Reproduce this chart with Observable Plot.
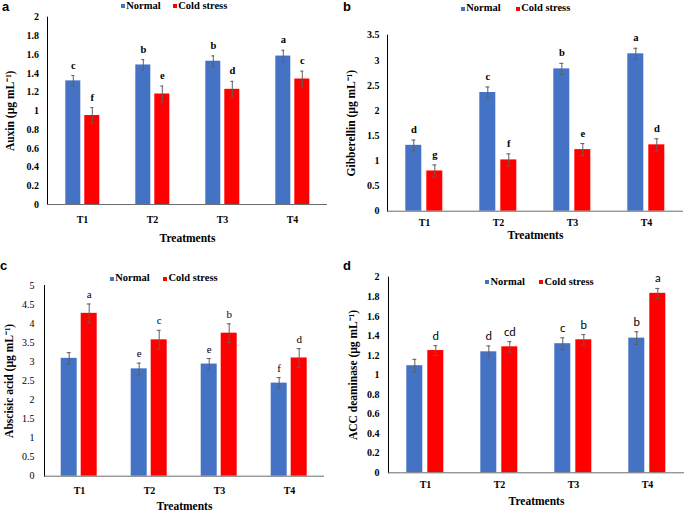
<!DOCTYPE html>
<html><head><meta charset="utf-8">
<script src="https://cdn.jsdelivr.net/npm/d3@7"></script>
<script src="https://cdn.jsdelivr.net/npm/@observablehq/plot@0.6"></script>
<style>
body{margin:0;background:#fff;}
#root{position:relative;width:685px;height:522px;overflow:hidden;background:#fff;}
.panel{position:absolute;}
.panel svg{overflow:visible;}
.plbl{position:absolute;font:bold 13px "Liberation Sans",Arial,sans-serif;line-height:13px;}
.leg{position:absolute;font:bold 10.5px "Liberation Serif",serif;white-space:nowrap;line-height:12px;}
.sq{position:absolute;width:4px;height:4px;}
.panel [aria-label="y-axis label"], .panel [aria-label="fx-axis label"]{font-size:11.5px;}
.pc [aria-label="y-axis tick label"]{font-weight:normal;}
</style>
</head><body><div id="root"></div>
<script>
const treatments = ["T1", "T2", "T3", "T4"];
const seriesNames = ["Normal", "Cold stress"];
const seriesColors = ["#4472C4", "#FF0000"];

// Panel a: Auxin
const auxinNormal = [1.32, 1.49, 1.53, 1.585];
const auxinNormalErr = [0.057, 0.057, 0.057, 0.062];
const auxinCold = [0.95, 1.18, 1.23, 1.34];
const auxinColdErr = [0.085, 0.085, 0.085, 0.084];
const auxinNormalLetters = ["c", "b", "b", "a"];
const auxinColdLetters = ["f", "e", "d", "c"];
const auxinTicks = [0, 0.2, 0.4, 0.6, 0.8, 1, 1.2, 1.4, 1.6, 1.8, 2];

// Panel b: Gibberellin
const gibNormal = [1.31, 2.36, 2.83, 3.13];
const gibNormalErr = [0.105, 0.11, 0.11, 0.11];
const gibCold = [0.80, 1.02, 1.225, 1.32];
const gibColdErr = [0.12, 0.12, 0.12, 0.12];
const gibNormalLetters = ["d", "c", "b", "a"];
const gibColdLetters = ["g", "f", "e", "d"];
const gibTicks = [0, 0.5, 1, 1.5, 2, 2.5, 3, 3.5];

// Panel c: Abscisic acid
const abaNormal = [3.09, 2.815, 2.94, 2.44];
const abaNormalErr = [0.15, 0.15, 0.145, 0.145];
const abaCold = [4.27, 3.575, 3.75, 3.10];
const abaColdErr = [0.245, 0.25, 0.245, 0.245];
const abaNormalLetters = ["", "e", "e", "f"];
const abaColdLetters = ["a", "c", "b", "d"];
const abaTicks = [0, 0.5, 1, 1.5, 2, 2.5, 3, 3.5, 4, 4.5, 5];

// Panel d: ACC deaminase
const accNormal = [1.095, 1.237, 1.32, 1.377];
const accNormalErr = [0.065, 0.06, 0.06, 0.065];
const accCold = [1.25, 1.288, 1.36, 1.835];
const accColdErr = [0.05, 0.053, 0.053, 0.05];
const accNormalLetters = ["", "d", "c", "b"];
const accColdLetters = ["d", "cd", "b", "a"];
const accTicks = [0, 0.2, 0.4, 0.6, 0.8, 1, 1.2, 1.4, 1.6, 1.8, 2];

function rowsOf(n, ne, nl, c, ce, cl) {
  return treatments.flatMap((t, i) => [
    {treatment: t, series: seriesNames[0], value: n[i], err: ne[i], letter: nl[i]},
    {treatment: t, series: seriesNames[1], value: c[i], err: ce[i], letter: cl[i]}
  ]);
}

const root = document.getElementById("root");
const fmt = d => String(+d.toFixed(1));

function panel(cfg) {
  const rows = rowsOf(...cfg.data);
  const errColor = "#5f5f5f";
  const svg = Plot.plot({
    width: cfg.width, height: cfg.height,
    marginLeft: cfg.ml, marginRight: cfg.mr, marginTop: cfg.mt, marginBottom: cfg.mb,
    facet: {data: rows, x: "treatment"},
    fx: {domain: treatments, padding: 0, axis: "bottom", tickSize: 0, tickPadding: cfg.fxPad,
         label: "Treatments", labelAnchor: "center", labelOffset: cfg.fxLabelOffset, labelArrow: false},
    x: {domain: seriesNames, axis: null, paddingInner: cfg.pi, paddingOuter: cfg.po},
    y: {domain: [cfg.ticks[0], cfg.ticks[cfg.ticks.length - 1]], ticks: cfg.ticks, tickFormat: fmt,
        tickSize: 0, tickPadding: cfg.yPad, label: cfg.ylabel, labelAnchor: "center", labelArrow: false,
        labelOffset: cfg.yLabelOffset, line: true},
    color: {domain: seriesNames, range: seriesColors},
    style: {fontFamily: "'Liberation Serif', serif", fontSize: "10px", fontWeight: "bold", color: "#000", background: "transparent"},
    marks: [
      Plot.barY(rows, {x: "series", y: "value", fill: "series"}),
      Plot.ruleX(rows, {x: "series", y1: d => d.value - d.err, y2: d => d.value + d.err, stroke: errColor}),
      Plot.tickY(rows, {x: "series", y: d => d.value - d.err, stroke: errColor, insetLeft: cfg.cap, insetRight: cfg.cap}),
      Plot.tickY(rows, {x: "series", y: d => d.value + d.err, stroke: errColor, insetLeft: cfg.cap, insetRight: cfg.cap}),
      Plot.text(rows, {x: "series", y: d => d.value + d.err, text: "letter", dy: cfg.letterDy, lineAnchor: "bottom",
        fontFamily: cfg.letterFont, fontWeight: cfg.letterWeight, fontSize: cfg.letterSize, fill: "#000"}),
      Plot.ruleY([0], {stroke: "#6b6b6b"})
    ]
  });
  const div = document.createElement("div");
  div.className = "panel " + cfg.cls;
  div.style.left = cfg.left + "px";
  div.style.top = cfg.top + "px";
  div.style.width = cfg.width + "px";
  div.style.height = cfg.height + "px";
  div.appendChild(svg);
  root.appendChild(div);

  const lab = document.createElement("div");
  lab.className = "plbl";
  lab.textContent = cfg.letter;
  lab.style.left = cfg.letterPos[0] + "px";
  lab.style.top = cfg.letterPos[1] + "px";
  root.appendChild(lab);

  // legend
  cfg.legend.forEach((lx, i) => {
    const sq = document.createElement("div");
    sq.className = "sq";
    sq.style.background = seriesColors[i];
    sq.style.left = lx + "px";
    sq.style.top = (cfg.legendBase - 5) + "px";
    root.appendChild(sq);
    const t = document.createElement("div");
    t.className = "leg";
    t.textContent = seriesNames[i];
    t.style.left = (lx + 5.5) + "px";
    t.style.top = (cfg.legendBase - 9.5) + "px";
    root.appendChild(t);
  });
}

panel({cls: "pa", left: 0, top: 0, width: 340, height: 250, ml: 45.7, mr: 11.7, mt: 16.7, mb: 46,
  data: [auxinNormal, auxinNormalErr, auxinNormalLetters, auxinCold, auxinColdErr, auxinColdLetters],
  ticks: auxinTicks, ylabel: "Auxin (µg mL⁻¹)", yPad: 8.4, yLabelOffset: 42, fxPad: 11.6, fxLabelOffset: 37,
  pi: 0.218, po: 0.903, cap: 6, letterDy: -7, letterFont: "'Liberation Serif', serif", letterWeight: "bold", letterSize: 10.5,
  letter: "a", letterPos: [2, 0], legend: [120.7, 172.7], legendBase: 9});

panel({cls: "pb", left: 340, top: 0, width: 345, height: 250, ml: 45.7, mr: 0, mt: 34.7, mb: 39.3,
  data: [gibNormal, gibNormalErr, gibNormalLetters, gibCold, gibColdErr, gibColdLetters],
  ticks: gibTicks, ylabel: "Gibberellin (µg mL⁻¹)", yPad: 8, yLabelOffset: 41, fxPad: 7.5, fxLabelOffset: 27.5,
  pi: 0.26, po: 0.853, cap: 6, letterDy: -7, letterFont: "'Liberation Serif', serif", letterWeight: "bold", letterSize: 10.5,
  letter: "b", letterPos: [343, 0], legend: [460.7, 515.7], legendBase: 11.7});

panel({cls: "pc", left: 0, top: 250, width: 340, height: 272, ml: 42.3, mr: 15, mt: 35, mb: 46.3,
  data: [abaNormal, abaNormalErr, abaNormalLetters, abaCold, abaColdErr, abaColdLetters],
  ticks: abaTicks, ylabel: "Abscisic acid (µg mL⁻¹)", yPad: 10, yLabelOffset: 40, fxPad: 10.5, fxLabelOffset: 34,
  pi: 0.21, po: 0.846, cap: 6, letterDy: -6, letterFont: "'Liberation Serif', serif", letterWeight: "normal", letterSize: 11,
  letter: "c", letterPos: [0, 259], legend: [109.7, 163], legendBase: 281.7});

panel({cls: "pd", left: 340, top: 250, width: 345, height: 272, ml: 46.7, mr: 0, mt: 26.7, mb: 49.7,
  data: [accNormal, accNormalErr, accNormalLetters, accCold, accColdErr, accColdLetters],
  ticks: accTicks, ylabel: "ACC deaminase (µg mL⁻¹)", yPad: 9, yLabelOffset: 40, fxPad: 8, fxLabelOffset: 32,
  pi: 0.235, po: 0.869, cap: 6, letterDy: -6, letterFont: "Lato, 'Liberation Sans', sans-serif", letterWeight: "normal", letterSize: 11.5,
  letter: "d", letterPos: [343, 259], legend: [485, 539], legendBase: 285.3});
</script>
</body></html>
